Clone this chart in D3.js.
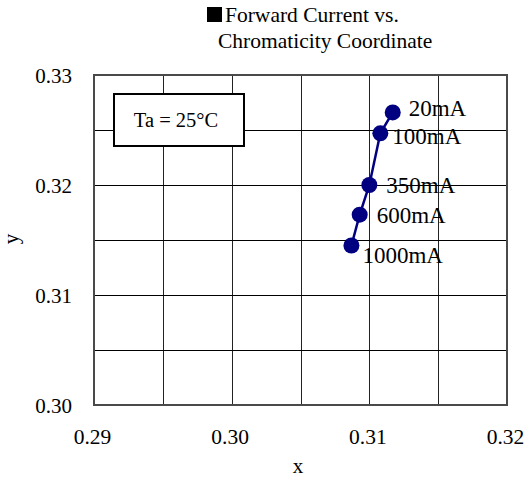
<!DOCTYPE html>
<html><head><meta charset="utf-8">
<script src="https://cdn.jsdelivr.net/npm/d3@7"></script>
<style>body{margin:0;background:#fff}svg{display:block}</style>
</head><body>
<script>
const currents = ["20mA","100mA","350mA","600mA","1000mA"];
const xValues = [0.3117,0.3108,0.3100,0.3093,0.3087];
const yValues = [0.3266,0.3247,0.3200,0.3173,0.3145];
const xTicks = [0.29,0.30,0.31,0.32];
const yTicks = [0.30,0.31,0.32,0.33];
const xGrid = [0.29,0.295,0.30,0.305,0.31,0.315,0.32];
const yGrid = [0.30,0.305,0.31,0.315,0.32,0.325,0.33];
const titleLines = ["Forward Current vs.","Chromaticity Coordinate"];

const FONT='"Liberation Serif","Times New Roman",serif';
const W=528,H=481;
const svg=d3.select("body").append("svg").attr("width",W).attr("height",H);
const L=94,R=507,T=75,B=405;
const x=d3.scaleLinear().domain([0.29,0.32]).range([L,R]);
const y=d3.scaleLinear().domain([0.30,0.33]).range([B,T]);

// grid
svg.append("g").selectAll("line").data(xGrid.slice(1,-1)).join("line")
 .attr("x1",d=>Math.round(x(d))+0.5).attr("x2",d=>Math.round(x(d))+0.5).attr("y1",T).attr("y2",B)
 .attr("stroke","#222").attr("stroke-width",1);
svg.append("g").selectAll("line").data(yGrid.slice(1,-1)).join("line")
 .attr("y1",d=>Math.round(y(d))+0.5).attr("y2",d=>Math.round(y(d))+0.5).attr("x1",L).attr("x2",R)
 .attr("stroke","#000").attr("stroke-width",1);
// frame
svg.append("rect").attr("x",L).attr("y",T).attr("width",R-L).attr("height",B-T)
 .attr("fill","none").attr("stroke","#4a4a4a").attr("stroke-width",2);

// axes
const xAxis=d3.axisBottom(x).tickValues(xTicks).tickFormat(d3.format(".2f")).tickSize(0);
const gx=svg.append("g").attr("transform",`translate(0,${B})`).call(xAxis);
gx.select(".domain").remove();
gx.selectAll("text").attr("y",39).attr("dy",null).attr("x",-2).style("font-family",FONT).style("font-size","21.5px").attr("fill","#000");
const yAxis=d3.axisLeft(y).tickValues(yTicks).tickFormat(d3.format(".2f")).tickSize(0).tickPadding(22);
const gy=svg.append("g").attr("transform",`translate(${L},0)`).call(yAxis);
gy.select(".domain").remove();
gy.selectAll("text").attr("dy","0.36em").style("font-family",FONT).style("font-size","21px").attr("fill","#000");

svg.append("text").attr("x",298).attr("y",473).attr("text-anchor","middle")
 .style("font-family",FONT).style("font-size","21px").text("x");
svg.append("text").attr("transform","translate(18,239) rotate(-90)").attr("text-anchor","middle")
 .style("font-family",FONT).style("font-size","21px").text("y");

// title
svg.append("rect").attr("x",207).attr("y",7).attr("width",15).attr("height",15).attr("fill","#000");
svg.append("text").attr("x",225).attr("y",22).style("font-family",FONT).style("font-size","21.5px").text(titleLines[0]);
svg.append("text").attr("x",218).attr("y",48).style("font-family",FONT).style("font-size","21.5px").text(titleLines[1]);

// Ta box
svg.append("rect").attr("x",114).attr("y",94).attr("width",130).attr("height",52)
 .attr("fill","#fff").attr("stroke","#000").attr("stroke-width",2);
svg.append("text").attr("x",176).attr("y",127).attr("text-anchor","middle")
 .style("font-family",FONT).style("font-size","20.5px").text("Ta = 25°C");

// data
const data=currents.map((c,i)=>({c,x:xValues[i],y:yValues[i]}));
svg.append("path").datum(data).attr("fill","none").attr("stroke","#000080").attr("stroke-width",2.5)
 .attr("d",d3.line().x(d=>x(d.x)).y(d=>y(d.y)));
svg.append("g").selectAll("circle").data(data).join("circle")
 .attr("cx",d=>x(d.x)).attr("cy",d=>y(d.y)).attr("r",8).attr("fill","#000080");
const offs=[[16,4],[12,11],[17,8],[17,8],[11,17]];
svg.append("g").selectAll("text").data(data).join("text")
 .attr("x",(d,i)=>x(d.x)+offs[i][0]).attr("y",(d,i)=>y(d.y)+offs[i][1])
 .style("font-family",FONT).style("font-size","23px").text(d=>d.c);
</script>
</body></html>
